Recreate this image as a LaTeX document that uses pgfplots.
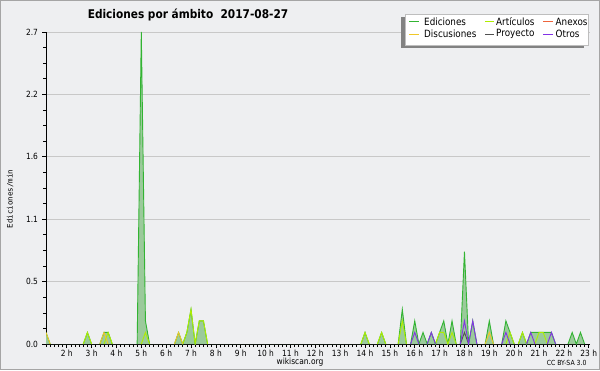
\documentclass[border=0pt]{standalone}
\usepackage{fontspec}
\setmainfont{DejaVu Sans}[FakeStretch=0.88]
\newfontfamily\monof{DejaVu Sans Mono}
\usepackage{pgfplots}
\pgfplotsset{compat=1.18}
\definecolor{bgc}{RGB}{238,239,241}
\definecolor{framec}{RGB}{165,165,165}
\definecolor{gridc}{RGB}{200,200,200}
\definecolor{edc}{RGB}{50,180,50}
\definecolor{edfill}{RGB}{155,202,155}
\definecolor{artc}{RGB}{175,238,0}
\definecolor{anxc}{RGB}{238,100,60}
\definecolor{disc}{RGB}{240,200,40}
\definecolor{proc}{RGB}{80,80,80}
\definecolor{otrc}{RGB}{130,50,230}
\definecolor{shadowc}{RGB}{130,130,130}
\definecolor{legbd}{RGB}{190,190,190}
\begin{document}
\begin{tikzpicture}[x=1pt,y=1pt]
\fill[bgc] (0,0) rectangle (600,370);
\draw[framec, line width=1pt] (0.5,0.5) rectangle (599.5,369.5);
\begin{axis}[
  at={(46pt,26pt)}, anchor=south west, scale only axis,
  width=544pt, height=312pt,
  xmin=7, xmax=138.3, ymin=0, ymax=2.7,
  axis lines*=left,
  axis line style={black, line width=0.8pt},
  ytick={0,0.54,1.08,1.62,2.16,2.7},
  yticklabels={0.0,0.5,1.1,1.6,2.2,2.7},
  minor y tick num=3,
  xtick={12,18,...,138},
  xticklabels={2 h,3 h,4 h,5 h,6 h,7 h,8 h,9 h,10 h,11 h,12 h,13 h,14 h,15 h,16 h,17 h,18 h,19 h,20 h,21 h,22 h,23 h},
  minor xtick={7,...,138},
  tick align=outside,
  major tick length=4pt, minor tick length=3pt,
  tick style={black, line width=0.6pt},
  ymajorgrids,
  grid style={gridc, line width=0.7pt},
  ticklabel style={font=\fontsize{8.5}{10}\selectfont},
  xticklabel style={yshift=1pt},
  yticklabel style={xshift=-0.5pt},
  unbounded coords=jump,
]
% Ediciones fill
\addplot[fill=edfill, draw=none] coordinates {
(7,0.1)(8,0)(16,0)(17,0.1)(18,0)(20,0)(21,0.1)(22,0.1)(23,0)
(29,0)(30,2.7)(31,0.2)(32,0)
(38,0)(39,0.1)(40,0)(41,0.1)(42,0.3)(43,0)(44,0.2)(45,0.2)(46,0)
(83,0)(84,0.1)(85,0)(87,0)(88,0.1)(89,0)(92,0)(93,0.3)(94,0)
(95,0)(96,0.2)(97,0)(98,0.1)(99,0)(100,0.1)(101,0)(102,0.1)(103,0.2)(104,0)(105,0.2)(106,0)
(107,0)(108,0.8)(109,0)(110,0.2)(111,0)
(113,0)(114,0.2)(115,0)(117,0)(118,0.2)(119,0.1)(120,0)
(121,0)(122,0.1)(123,0)(124,0.1)(125,0.1)(126,0.1)(127,0.1)(128,0.1)(129,0.1)(130,0)
(133,0)(134,0.1)(135,0)(136,0.1)(137,0)
} \closedcycle;
% Ediciones line
\addplot[edc, line width=0.9pt] coordinates {
(7,0.1)(8,0)(8.5,nan)
(16,0)(17,0.1)(18,0)(18.5,nan)
(20,0)(21,0.1)(22,0.1)(23,0)(23.5,nan)
(29,0)(30,2.7)(31,0.2)(32,0)(32.5,nan)
(38,0)(39,0.1)(40,0)(41,0.1)(42,0.3)(43,0)(44,0.2)(45,0.2)(46,0)(46.5,nan)
(83,0)(84,0.1)(85,0)(85.5,nan)
(87,0)(88,0.1)(89,0)(89.5,nan)
(92,0)(93,0.3)(94,0)(94.5,nan)
(95,0)(96,0.2)(97,0)(98,0.1)(99,0)(100,0.1)(101,0)(102,0.1)(103,0.2)(104,0)(105,0.2)(106,0)(106.5,nan)
(107,0)(108,0.8)(109,0)(110,0.2)(111,0)(111.5,nan)
(113,0)(114,0.2)(115,0)(115.5,nan)
(117,0)(118,0.2)(119,0.1)(120,0)(120.5,nan)
(121,0)(122,0.1)(123,0)(124,0.1)(125,0.1)(126,0.1)(127,0.1)(128,0.1)(129,0.1)(130,0)(130.5,nan)
(133,0)(134,0.1)(135,0)(136,0.1)(137,0)
};
% Articulos
\addplot[artc, line width=0.9pt] coordinates {
(16,0)(17,0.1)(18,0)(18.5,nan)
(21,0)(22,0.1)(23,0)(23.5,nan)
(30,0)(31,0.1)(32,0)(32.5,nan)
(40,0)(41,0.1)(42,0.3)(43,0)(44,0.2)(45,0.2)(46,0)(46.5,nan)
(83,0)(84,0.1)(85,0)(85.5,nan)
(87,0)(88,0.1)(89,0)(89.5,nan)
(92,0)(93,0.2)(94,0)(94.5,nan)
(101,0)(102,0.1)(103,0.1)(104,0)(105,0.1)(106,0)(106.5,nan)
(118,0)(119,0.1)(120,0)(120.5,nan)
(121,0)(122,0.1)(123,0)(123.5,nan)
(125,0)(126,0.1)(127,0.1)(128,0)
};
% Discusiones
\addplot[disc, line width=0.9pt] coordinates {
(7,0.1)(8,0)(8.5,nan)
(20,0)(21,0.1)(22,0)(22.5,nan)
(38,0)(39,0.1)(40,0)(40.5,nan)
(113,0)(114,0.1)(115,0)
};
% Proyecto
\addplot[proc, line width=0.9pt] coordinates {
(107,0)(108,0.1)(109,0)
};
% Otros
\addplot[otrc, line width=0.9pt] coordinates {
(95,0)(96,0.1)(97,0)(97.5,nan)
(99,0)(100,0.1)(101,0)(101.5,nan)
(107,0)(108,0.2)(109,0)(110,0.2)(111,0)(111.5,nan)
(117,0)(118,0.1)(119,0)(119.5,nan)
(123,0)(124,0.1)(125,0)(125.5,nan)
(128,0)(129,0.1)(130,0)
};
\end{axis}
% legend
\fill[shadowc] (401,322) rectangle (584,352.5);
\draw[legbd, fill=white, line width=0.8pt] (405,325) rectangle (588,355.5);
\begin{scope}[every node/.style={anchor=west, inner sep=0pt, font=\fontsize{10}{11}\selectfont}]
\draw[edc, line width=0.9pt] (409,348.3) -- (419,348.3);
\node at (424,348.5) {Ediciones};
\draw[artc, line width=0.9pt] (485,348.3) -- (494,348.3);
\node at (496,348.5) {Artículos};
\draw[anxc, line width=0.9pt] (543,348.3) -- (553,348.3);
\node at (555.5,348.5) {Anexos};
\draw[disc, line width=0.9pt] (409,336) -- (419,336);
\node at (424,336.5) {Discusiones};
\draw[proc, line width=0.9pt] (485,336) -- (494,336);
\node at (496,336.5) {Proyecto};
\draw[otrc, line width=0.9pt] (543,336) -- (553,336);
\node at (555.5,336.5) {Otros};
\end{scope}
\node[font=\bfseries\fontsize{12}{14}\selectfont] at (188,354.7) {Ediciones por ámbito\ \ 2017-08-27};
\node[rotate=90, font=\monof\fontsize{7.5}{9}\selectfont] at (10,171) {Ediciones/min};
\node[font=\fontsize{8.5}{10}\selectfont] at (300,8.3) {wikiscan.org};
\node[font=\fontsize{7}{8}\selectfont, anchor=east] at (590,7.5) {CC BY-SA 3.0};
\pgfresetboundingbox
\useasboundingbox (0,0) rectangle (600,370);
\end{tikzpicture}
\end{document}
